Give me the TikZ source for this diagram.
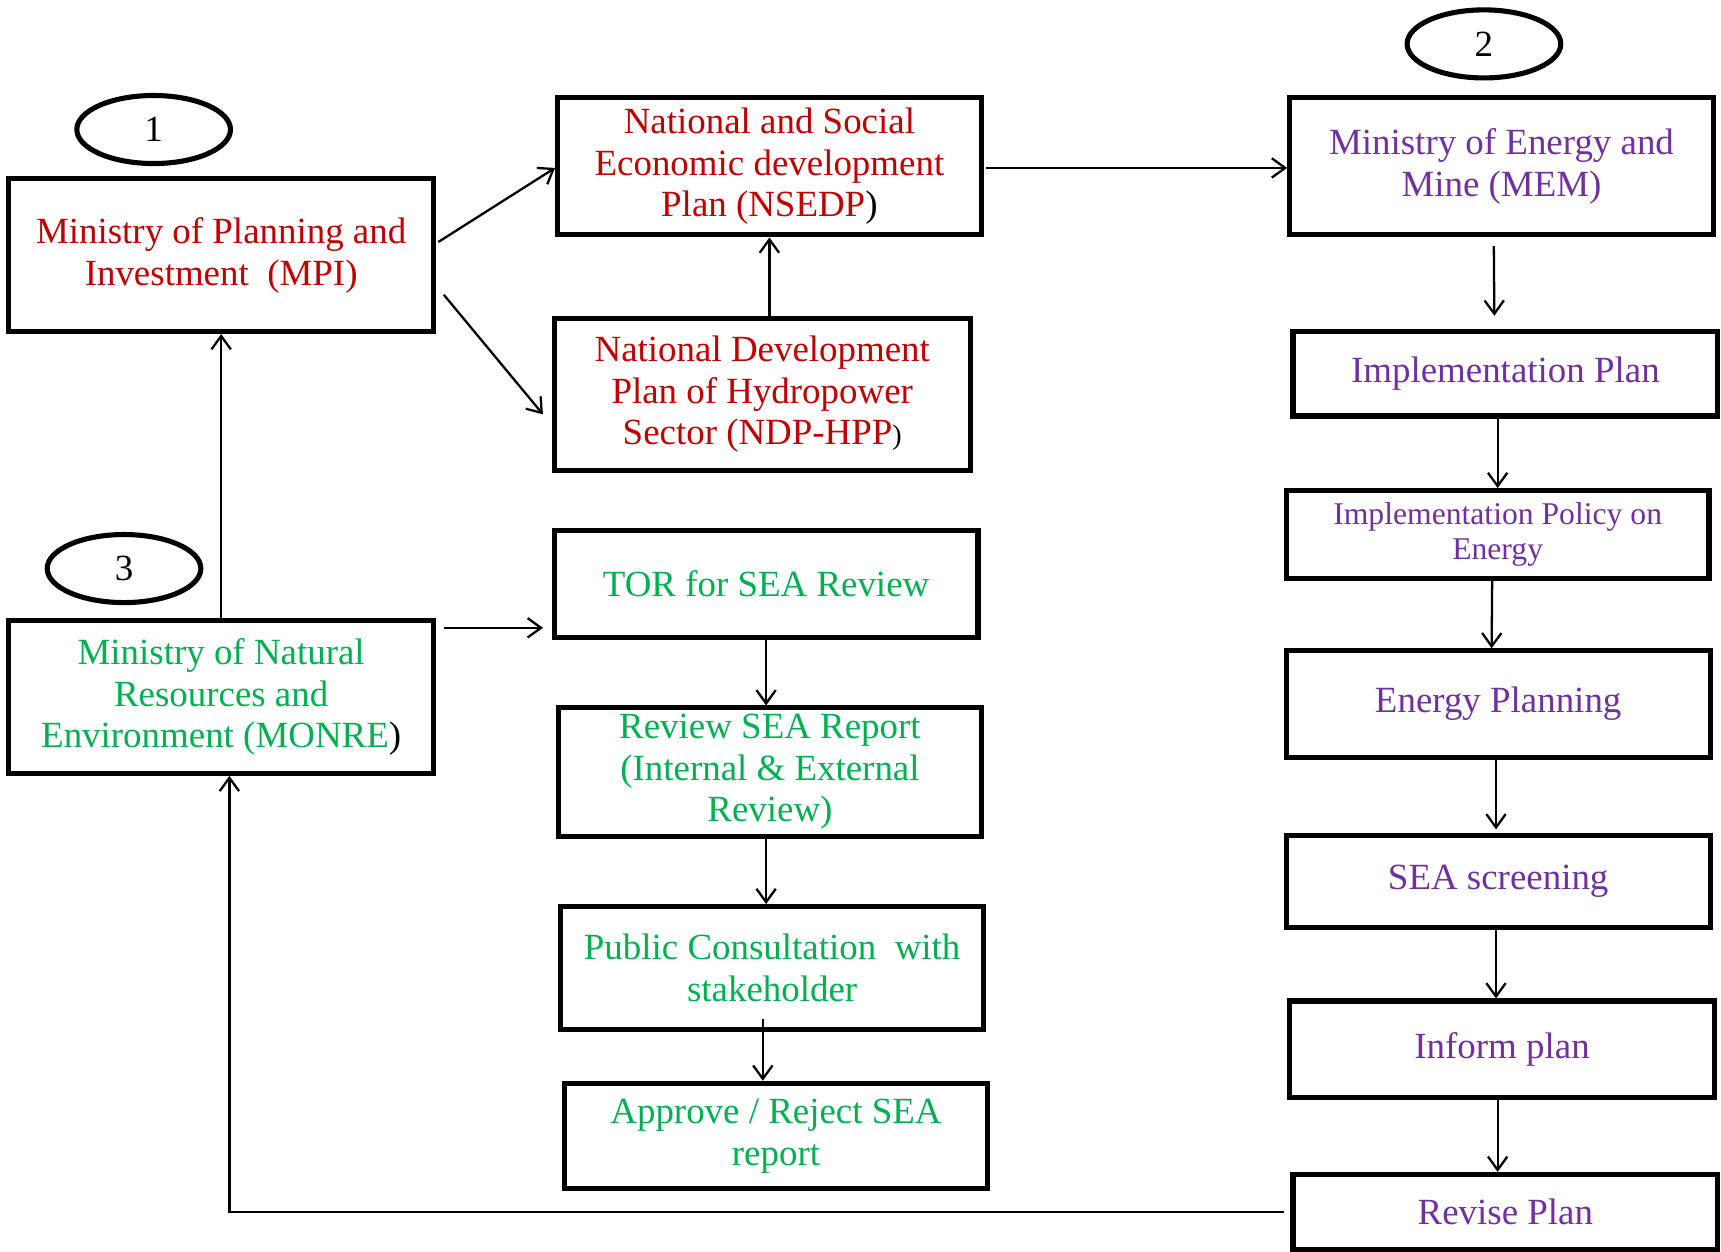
\documentclass[tikz,border=0pt]{standalone}
\usepackage{fontspec}
\setmainfont{Liberation Serif}
\usetikzlibrary{shapes.geometric,arrows.meta}
\definecolor{planred}{HTML}{C00000}
\definecolor{mempurple}{HTML}{7030A0}
\definecolor{monregreen}{HTML}{00B050}

\begin{document}
\begin{tikzpicture}[x=0.010976cm,y=-0.010976cm,
  box/.style 2 args={draw,rectangle,line width=1.45pt,inner sep=0pt,align=center,
    minimum width=#1*0.010976cm,minimum height=#2*0.010976cm,
    font=\fontsize{10.5}{11.8}\selectfont},
  num/.style={draw,ellipse,line width=1.45pt,inner sep=0pt,
    minimum width=140*0.010976cm,minimum height=62*0.010976cm,
    font=\fontsize{10.5}{11.8}\selectfont},
  arr/.style={-{Straight Barb[length=3.8pt,width=5.5pt]},line width=0.65pt}]
\useasboundingbox (0,0) rectangle (1568,1140);

% numbered ovals
\node[num] (one) at (140,118) {1};
\node[num] (two) at (1352,40) {2};
\node[num] (three) at (113,518) {3};

% MPI column
\node[box={387}{139},text=planred] (mpi) at (201.5,232.5)
  {Ministry of Planning and\\Investment\ \ (MPI)};
\node[box={387}{139},text=monregreen] (monre) at (201.5,635)
  {Ministry of Natural\\Resources and\\Environment (MONRE\textcolor{black}{)}};

% plans
\node[box={386}{125},text=planred] (nsedp) at (701,151.5)
  {National and Social\\Economic development\\Plan (NSEDP\textcolor{black}{)}};
\node[box={379}{139},text=planred] (ndp) at (694.5,359.5)
  {National Development\\Plan of Hydropower\\Sector (NDP-HPP\textcolor{black}{\fontsize{8}{8}\selectfont)}};

% SEA review
\node[box={386}{98},text=monregreen] (tor) at (698,532) {TOR for SEA Review};
\node[box={385}{117},text=monregreen] (review) at (701.5,703.5)
  {Review SEA Report\\(Internal \& External\\Review)};
\node[box={385}{112},text=monregreen] (public) at (703.5,882)
  {Public Consultation\ \ with\\stakeholder};
\node[box={386}{96},text=monregreen] (approve) at (707,1035)
  {Approve / Reject SEA\\report};

% MEM column
\node[box={386}{125},text=mempurple] (mem) at (1368,151.5)
  {Ministry of Energy and\\Mine (MEM)};
\node[box={387}{77},text=mempurple] (impl) at (1371.5,340.5) {Implementation Plan};
\node[box={385}{80},text=mempurple,font=\fontsize{9}{9.8}\selectfont] (policy) at (1364.5,487)
  {Implementation Policy on\\Energy};
\node[box={386}{97},text=mempurple] (energy) at (1365,641.5) {Energy Planning};
\node[box={386}{84},text=mempurple] (screen) at (1365,803) {SEA screening};
\node[box={387}{88},text=mempurple] (inform) at (1368.5,956) {Inform plan};
\node[box={387}{68},text=mempurple] (revise) at (1371.5,1104) {Revise Plan};

% connectors
\draw[arr] ([shift={(2,-12)}]mpi.east) -- ([shift={(0,1.5)}]nsedp.west);
\draw[arr] ([shift={(7,36)}]mpi.east) -- ([shift={(-8,18)}]ndp.west);
\draw[arr] (nsedp.south |- ndp.north) -- (nsedp.south);
\draw[arr] ([shift={(2,1.5)}]nsedp.east) -- ([shift={(0,1.5)}]mem.west);
\draw[arr] ([shift={(-7,8)}]mem.south) -- ([shift={(-10,-12)}]impl.north);
\draw[arr] (policy.north |- impl.south) -- (policy.north);
\draw[arr] ([shift={(-5,0)}]policy.south) -- ([shift={(-6,0)}]energy.north);
\draw[arr] ([shift={(-2,0)}]energy.south) -- ([shift={(-2,-3)}]screen.north);
\draw[arr] ([shift={(-2,0)}]screen.south) -- ([shift={(-2,0)}]screen.south |- inform.north);
\draw[arr] ([shift={(-4,0)}]inform.south) -- ([shift={(-4,0)}]inform.south |- revise.north);
\draw[arr] ([shift={(-6,0)}]revise.west) -| ([shift={(7.5,0)}]monre.south);
\draw[arr] (monre.north) -- (mpi.south);
\draw[arr] ([shift={(7,-63)}]monre.east) -- ([shift={(-8,40)}]tor.west);
\draw[arr] (tor.south) -- (tor.south |- review.north);
\draw[arr] ([shift={(-3.5,0)}]review.south) -- ([shift={(-3.5,0)}]review.south |- public.north);
\draw[arr] ([shift={(-8.5,-12)}]public.south) -- ([shift={(-8.5,0)}]public.south |- approve.north);
\end{tikzpicture}
\end{document}
